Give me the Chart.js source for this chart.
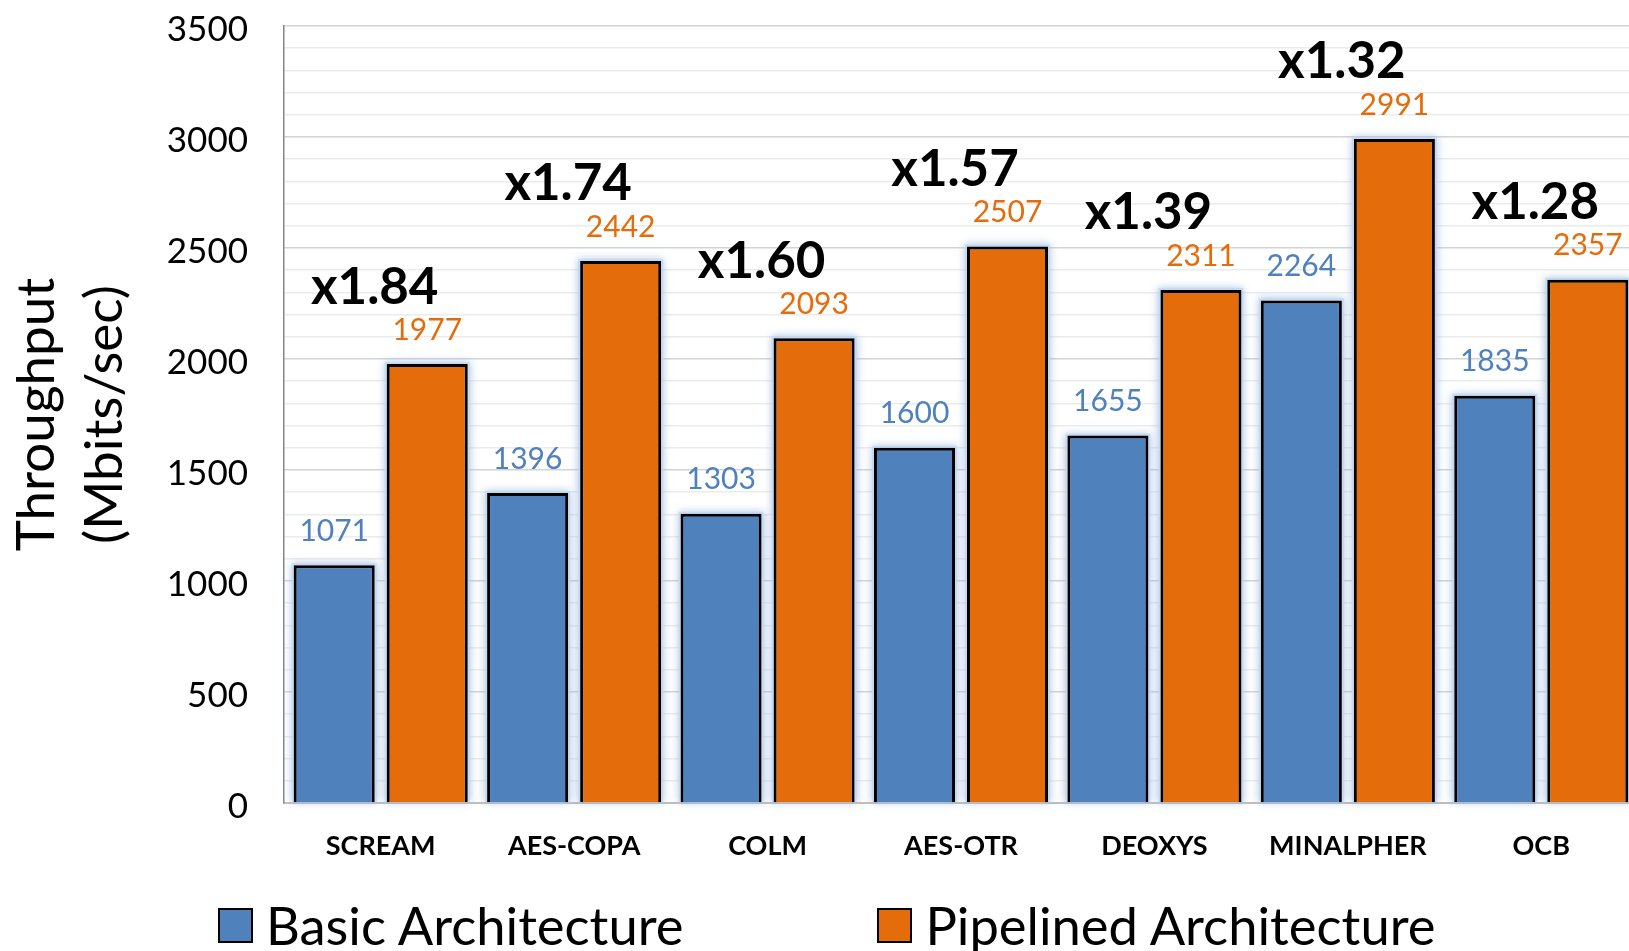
<!DOCTYPE html>
<html>
<head>
<meta charset="utf-8">
<title>Throughput: Basic vs Pipelined Architecture</title>
<script src="https://cdn.jsdelivr.net/npm/chart.js@4.4.1/dist/chart.umd.min.js"></script>
<style>
  html, body { margin: 0; padding: 0; background: #fff; overflow: hidden; width: 1629px; height: 951px; }
  #wrap { position: relative; width: 1638px; height: 951px; }
  #chart { display: block; }
  #legend { position: absolute; top: 897px; left: 218px; display: flex; align-items: center;
            font-family: Lato, sans-serif; font-size: 52.5px; line-height: 56px; color: #000; white-space: nowrap; }
  .legend-item { display: flex; align-items: center; }
  .legend-item + .legend-item { margin-left: 194px; }
  .legend-box { width: 31px; height: 31px; border: 2px solid #000; margin-right: 13px; }
</style>
</head>
<body>
<div id="wrap">
  <canvas id="chart" width="1638" height="951"></canvas>
  <div id="legend"></div>
</div>
<script>
// Cipher implementations compared
const categories = ['SCREAM', 'AES-COPA', 'COLM', 'AES-OTR', 'DEOXYS', 'MINALPHER', 'OCB'];
// Throughput in Mbits/sec
const basicValues = [1071, 1396, 1303, 1600, 1655, 2264, 1835];
const pipelinedValues = [1977, 2442, 2093, 2507, 2311, 2991, 2357];
// Speed-up of the pipelined design, printed above each pair
const speedupLabels = ['x1.84', 'x1.74', 'x1.60', 'x1.57', 'x1.39', 'x1.32', 'x1.28'];
// Value axis: labelled every 500, light grid every 100
const yMin = 0;
const yMax = 3500;
const yLabelStep = 500;
const yGridStep = 100;

const seriesNames = ['Basic Architecture', 'Pipelined Architecture'];
const seriesColors = ['#4f81bd', '#e46c0a'];
const FONT = 'Lato, sans-serif';

// Soft blue halo painted behind every bar
const barGlow = {
  id: 'barGlow',
  beforeDatasetsDraw(chart) {
    const ctx = chart.ctx;
    ctx.save();
    ctx.fillStyle = 'rgba(198,217,241,0.85)';
    ctx.shadowColor = 'rgba(150,180,220,0.9)';
    ctx.shadowBlur = 8;
    chart.data.datasets.forEach((ds, i) => {
      chart.getDatasetMeta(i).data.forEach(bar => {
        const p = bar.getProps(['x', 'y', 'base', 'width'], true);
        ctx.fillRect(p.x - p.width / 2 - 2, p.y - 2, p.width + 4, p.base - p.y + 2);
      });
    });
    ctx.restore();
  }
};

// Value above each bar and the speed-up factor above each pair
const barLabels = {
  id: 'barLabels',
  afterDatasetsDraw(chart) {
    const ctx = chart.ctx;
    ctx.save();
    ctx.textAlign = 'center';
    ctx.textBaseline = 'middle';
    ctx.font = '30px ' + FONT;
    chart.data.datasets.forEach((ds, i) => {
      ctx.fillStyle = seriesColors[i];
      chart.getDatasetMeta(i).data.forEach((bar, j) => {
        ctx.fillText(String(ds.data[j]), bar.x, bar.y - 34);
      });
    });
    const basicBars = chart.getDatasetMeta(0).data;
    const pipeBars = chart.getDatasetMeta(1).data;
    ctx.font = 'bold 51px ' + FONT;
    ctx.fillStyle = '#000';
    speedupLabels.forEach((txt, j) => {
      const x = (basicBars[j].x + pipeBars[j].x) / 2 - 6;
      ctx.fillText(txt, x, pipeBars[j].y - 77);
    });
    ctx.restore();
  }
};

function buildLegend(chart) {
  const el = document.getElementById('legend');
  el.innerHTML = '';
  chart.data.datasets.forEach(ds => {
    const item = document.createElement('div');
    item.className = 'legend-item';
    const box = document.createElement('span');
    box.className = 'legend-box';
    box.style.background = ds.backgroundColor;
    const text = document.createElement('span');
    text.textContent = ds.label;
    item.appendChild(box);
    item.appendChild(text);
    el.appendChild(item);
  });
}

function draw() {
  const chart = new Chart(document.getElementById('chart'), {
    type: 'bar',
    data: {
      labels: categories,
      datasets: [
        { label: seriesNames[0], data: basicValues, backgroundColor: seriesColors[0],
          borderColor: '#000', borderWidth: 3, barPercentage: 0.871, categoryPercentage: 0.962 },
        { label: seriesNames[1], data: pipelinedValues, backgroundColor: seriesColors[1],
          borderColor: '#000', borderWidth: 3, barPercentage: 0.871, categoryPercentage: 0.962 }
      ]
    },
    options: {
      responsive: false,
      animation: false,
      devicePixelRatio: 1,
      layout: { padding: { top: 26, left: 0, right: 0, bottom: 90 } },
      plugins: { legend: { display: false }, tooltip: { enabled: false } },
      scales: {
        x: {
          grid: { display: false, drawTicks: false },
          border: { display: true, color: '#bfbfbf', width: 2 },
          ticks: { padding: 27, color: '#000', font: { family: FONT, size: 27, weight: 'bold' } },
          afterFit(scale) { scale.height = 58; }
        },
        y: {
          min: yMin,
          max: yMax,
          ticks: {
            stepSize: yGridStep,
            autoSkip: false,
            padding: 36,
            labelOffset: 4,
            color: '#000',
            font: { family: FONT, size: 35, lineHeight: 1.2 },
            callback: v => (v % yLabelStep === 0 ? String(v) : '')
          },
          grid: {
            drawTicks: false,
            color: c => (c.tick && c.tick.value % yLabelStep === 0 ? '#d4d4d4' : '#ececec'),
            lineWidth: 1.5
          },
          border: { display: true, color: '#868686', width: 1.5 },
          title: {
            display: true,
            text: ['Throughput', '(Mbits/sec)'],
            color: '#000',
            font: { family: FONT, size: 53, lineHeight: 1.3 },
            padding: { top: 2, bottom: 0 }
          },
          afterFit(scale) {
            scale.width = 284;
            // only half a label height is needed above the top tick
            scale.paddingTop = 20;
            scale.paddingBottom = 20;
          }
        }
      }
    },
    plugins: [barGlow, barLabels]
  });
  buildLegend(chart);
}

Promise.all([
  document.fonts.load('30px Lato'),
  document.fonts.load('bold 51px Lato')
]).then(draw, draw);
</script>
</body>
</html>
